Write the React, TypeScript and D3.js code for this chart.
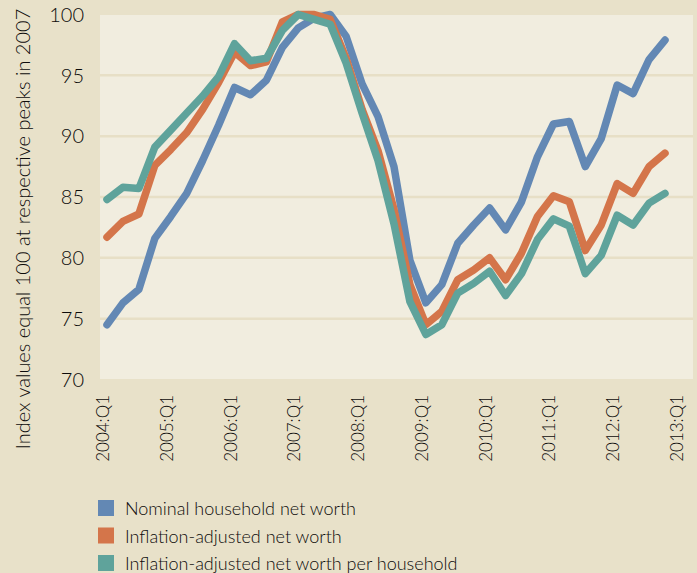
import { useEffect, useRef } from "react";
import * as d3 from "d3";

// quarterly index values, 2004:Q1 .. 2012:Q4
const nominal = [
  74.5, 76.3, 77.4, 81.6, 83.4, 85.3, 88.0, 90.9, 94.0, 93.4,
  94.6, 97.3, 98.9, 99.7, 100.0, 98.2, 94.3, 91.6, 87.5, 79.8,
  76.3, 77.8, 81.2, 82.7, 84.1, 82.3, 84.6, 88.3, 91.0, 91.2,
  87.5, 89.8, 94.2, 93.5, 96.3, 97.9,
];
const inflationAdjusted = [
  81.7, 83.0, 83.6, 87.6, 88.9, 90.3, 92.2, 94.4, 96.9, 95.8,
  96.1, 99.4, 100.0, 100.0, 99.6, 96.4, 92.2, 88.8, 84.0, 77.8,
  74.5, 75.6, 78.2, 79.0, 80.0, 78.2, 80.4, 83.4, 85.1, 84.6,
  80.6, 82.7, 86.1, 85.3, 87.5, 88.6,
];
const perHousehold = [
  84.8, 85.8, 85.7, 89.1, 90.5, 91.9, 93.3, 94.9, 97.6, 96.2,
  96.4, 98.7, 100.0, 99.6, 99.2, 96.0, 91.9, 88.0, 82.8, 76.4,
  73.7, 74.5, 77.1, 77.9, 78.9, 76.9, 78.7, 81.5, 83.2, 82.6,
  78.7, 80.2, 83.5, 82.7, 84.5, 85.3,
];

const tickYears = ["2004", "2005", "2006", "2007", "2008", "2009", "2010", "2011", "2012", "2013"];
const yTicks = [70, 75, 80, 85, 90, 95, 100];

const seriesNames = [
  "Nominal household net worth",
  "Inflation-adjusted net worth",
  "Inflation-adjusted net worth per household",
];
const seriesColors = ["#6388b4", "#d4754a", "#5fa39b"];

const yTitle = "Index values equal 100 at respective peaks in 2007";

export default function App() {
  const svgRef = useRef<SVGSVGElement | null>(null);
  const width = 697;
  const height = 573;

  useEffect(() => {
    if (!svgRef.current) return;
    const svg = d3.select(svgRef.current);
    svg.selectAll("*").remove();

    const font = "Lato, 'Open Sans', sans-serif";
    const weight = 300;
    const ink = "#0d0b0b";

    const plot = { left: 100, right: 693, top: 15, bottom: 379 };

    const x = d3.scaleLinear().domain([0, 35]).range([107, 665]);
    const y = d3.scaleLinear().domain([70, 100]).range([379.5, 14.5]);

    svg.append("rect").attr("width", width).attr("height", height).attr("fill", "#e8e1c9");
    svg
      .append("rect")
      .attr("x", plot.left)
      .attr("y", plot.top)
      .attr("width", plot.right - plot.left)
      .attr("height", plot.bottom - plot.top)
      .attr("fill", "#f1eddf");

    // gridlines
    svg
      .append("g")
      .selectAll("line")
      .data(yTicks.filter((t) => t > 70 && t < 100))
      .join("line")
      .attr("x1", plot.left)
      .attr("x2", plot.right)
      .attr("y1", (d) => y(d))
      .attr("y2", (d) => y(d))
      .attr("stroke", "#e7dfc6")
      .attr("stroke-width", 2.5);

    // y tick labels
    svg
      .append("g")
      .selectAll("text")
      .data(yTicks)
      .join("text")
      .attr("x", 84)
      .attr("y", (d) => y(d))
      .attr("dy", "0.36em")
      .attr("text-anchor", "end")
      .attr("font-family", font)
      .attr("font-weight", weight)
      .attr("font-size", 20)
      .attr("fill", ink)
      .text((d) => d);

    // y title
    svg
      .append("text")
      .attr("transform", `translate(30,229) rotate(-90)`)
      .attr("text-anchor", "middle")
      .attr("font-family", font)
      .attr("font-weight", weight)
      .attr("font-size", 20)
      .attr("fill", ink)
      .text(yTitle);

    // x tick labels
    svg
      .append("g")
      .selectAll("text")
      .data(tickYears)
      .join("text")
      .attr("transform", (_, i) => `translate(${x(i * 4) + 2},395) rotate(-90)`)
      .attr("text-anchor", "end")
      .attr("font-family", font)
      .attr("font-weight", weight)
      .attr("font-size", 17)
      .attr("fill", ink)
      .text((d) => `${d}:Q1`);

    // lines
    const line = d3
      .line<number>()
      .x((_, i) => x(i))
      .y((d) => y(d));

    [nominal, inflationAdjusted, perHousehold].forEach((values, k) => {
      svg
        .append("path")
        .attr("d", line(values) as string)
        .attr("fill", "none")
        .attr("stroke", seriesColors[k])
        .attr("stroke-width", 7.5)
        .attr("stroke-linejoin", "round")
        .attr("stroke-linecap", "round");
    });

    // legend
    const legend = svg.append("g").attr("transform", "translate(98,500)");
    seriesNames.forEach((name, k) => {
      const row = legend.append("g").attr("transform", `translate(0,${k * 27.5})`);
      row
        .append("rect")
        .attr("width", 16)
        .attr("height", 16)
        .attr("fill", seriesColors[k]);
      row
        .append("text")
        .attr("x", 27)
        .attr("y", 15)
        .attr("font-family", font)
        .attr("font-weight", weight)
        .attr("font-size", 18)
        .attr("fill", ink)
        .text(name);
    });
  }, []);

  return (
    <svg
      ref={svgRef}
      width={width}
      height={height}
      style={{ position: "absolute", left: 0, top: 0 }}
    />
  );
}
